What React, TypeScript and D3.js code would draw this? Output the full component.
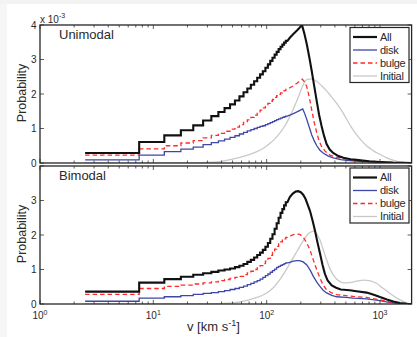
import React from 'react';
import * as d3 from 'd3';

const W = 417;
const H = 337;

// velocity bin centres (km/s), bins are 5 km/s wide
const BIN_V = [5, 10, 15, 20, 25, 30, 35, 40, 45, 50, 55, 60, 65, 70, 75, 80, 85, 90, 95, 100, 105, 110, 115, 120, 125, 130, 135, 140, 145, 150];
const BIN_HALF = 2.5;

// ---------- Unimodal (values in units of 1e-3) ----------
const UNI_ALL_BINS = [0.29, 0.61, 0.8, 0.95, 1.09, 1.23, 1.36, 1.48, 1.59, 1.7, 1.81, 1.93, 2.05, 2.16, 2.27, 2.37, 2.47, 2.57, 2.66, 2.76, 2.86, 2.96, 3.05, 3.14, 3.22, 3.3, 3.37, 3.43, 3.49, 3.54];
const UNI_ALL_TAIL: [number, number][] = [[160, 3.63], [172, 3.74], [185, 3.84], [195, 3.92], [205, 4.0], [215, 3.75], [226, 3.44], [238, 3.06], [250, 2.66], [263, 2.22], [277, 1.78], [290, 1.4], [305, 1.07], [320, 0.8], [338, 0.55], [360, 0.39], [386, 0.29], [430, 0.2], [475, 0.15], [550, 0.11], [620, 0.09], [800, 0.05], [1000, 0.03], [1300, 0.01], [1900, 0]];

const UNI_DISK_BINS = [0.09, 0.23, 0.33, 0.4, 0.46, 0.53, 0.59, 0.64, 0.69, 0.74, 0.79, 0.84, 0.89, 0.93, 0.97, 1.0, 1.03, 1.06, 1.08, 1.11, 1.14, 1.17, 1.2, 1.23, 1.26, 1.28, 1.3, 1.32, 1.34, 1.36];
const UNI_DISK_TAIL: [number, number][] = [[160, 1.39], [172, 1.43], [185, 1.48], [195, 1.52], [208, 1.57], [215, 1.46], [226, 1.26], [238, 1.03], [250, 0.81], [263, 0.64], [277, 0.5], [295, 0.37], [317, 0.28], [350, 0.2], [386, 0.15], [450, 0.1], [510, 0.08], [650, 0.05], [800, 0.03], [1000, 0.02], [1300, 0.005], [1900, 0]];

const UNI_BULGE_BINS = [0.23, 0.41, 0.5, 0.58, 0.65, 0.73, 0.8, 0.86, 0.92, 0.98, 1.04, 1.11, 1.18, 1.25, 1.32, 1.39, 1.46, 1.53, 1.6, 1.67, 1.73, 1.79, 1.84, 1.9, 1.95, 1.99, 2.03, 2.07, 2.1, 2.13];
const UNI_BULGE_TAIL: [number, number][] = [[160, 2.18], [172, 2.24], [185, 2.31], [195, 2.37], [206, 2.43], [215, 2.36], [226, 2.21], [238, 1.9], [250, 1.53], [263, 1.17], [277, 0.87], [290, 0.64], [305, 0.48], [330, 0.33], [362, 0.23], [420, 0.16], [475, 0.13], [600, 0.08], [800, 0.05], [1000, 0.03], [1300, 0.01], [1900, 0]];

const UNI_INITIAL: [number, number][] = [[2.5, 0], [20, 0], [30, 0.02], [40, 0.05], [58, 0.16], [70, 0.24], [81, 0.32], [95, 0.44], [107, 0.57], [118, 0.7], [130, 0.86], [143, 1.05], [155, 1.25], [167, 1.47], [178, 1.68], [187, 1.85], [196, 2.02], [210, 2.27], [220, 2.38], [232, 2.43], [250, 2.43], [277, 2.36], [305, 2.24], [338, 2.09], [375, 1.91], [415, 1.73], [460, 1.51], [510, 1.26], [560, 1.03], [620, 0.82], [690, 0.64], [765, 0.49], [870, 0.36], [1000, 0.25], [1150, 0.15], [1300, 0.08], [1500, 0.03], [1700, 0.01], [1900, 0]];

// ---------- Bimodal ----------
const BI_ALL_BINS = [0.36, 0.62, 0.72, 0.79, 0.85, 0.89, 0.93, 0.97, 1.0, 1.03, 1.07, 1.11, 1.16, 1.22, 1.28, 1.35, 1.42, 1.49, 1.57, 1.66, 1.77, 1.89, 2.02, 2.18, 2.34, 2.5, 2.64, 2.75, 2.86, 2.95];
const BI_ALL_TAIL: [number, number][] = [[160, 3.1], [170, 3.2], [180, 3.26], [190, 3.27], [200, 3.24], [210, 3.17], [220, 3.05], [230, 2.88], [241, 2.7], [255, 2.4], [267, 2.12], [280, 1.8], [295, 1.48], [310, 1.15], [326, 0.88], [345, 0.68], [375, 0.54], [410, 0.47], [450, 0.42], [540, 0.4], [620, 0.37], [763, 0.33], [880, 0.27], [1000, 0.2], [1150, 0.13], [1310, 0.07], [1500, 0.03], [1720, 0.005], [1900, 0]];

const BI_DISK_BINS = [0.08, 0.17, 0.21, 0.24, 0.28, 0.31, 0.33, 0.36, 0.39, 0.42, 0.45, 0.48, 0.52, 0.56, 0.6, 0.64, 0.68, 0.72, 0.77, 0.82, 0.87, 0.92, 0.97, 1.01, 1.06, 1.09, 1.12, 1.14, 1.17, 1.19];
const BI_DISK_TAIL: [number, number][] = [[160, 1.21], [172, 1.24], [185, 1.26], [195, 1.26], [210, 1.22], [226, 1.13], [242, 0.98], [258, 0.8], [276, 0.64], [295, 0.51], [315, 0.4], [338, 0.32], [375, 0.25], [415, 0.21], [500, 0.19], [580, 0.17], [763, 0.15], [1000, 0.1], [1200, 0.05], [1500, 0.02], [1900, 0]];

const BI_BULGE_BINS = [0.28, 0.45, 0.51, 0.55, 0.58, 0.61, 0.64, 0.68, 0.71, 0.74, 0.77, 0.8, 0.85, 0.9, 0.95, 1.0, 1.05, 1.11, 1.17, 1.24, 1.32, 1.41, 1.5, 1.59, 1.67, 1.74, 1.8, 1.85, 1.89, 1.93];
const BI_BULGE_TAIL: [number, number][] = [[160, 1.97], [172, 2.01], [185, 2.03], [196, 2.02], [210, 1.94], [226, 1.77], [242, 1.55], [258, 1.28], [276, 1.0], [295, 0.75], [315, 0.55], [338, 0.41], [375, 0.32], [415, 0.27], [480, 0.25], [580, 0.22], [763, 0.19], [1000, 0.12], [1200, 0.06], [1500, 0.02], [1900, 0]];

const BI_INITIAL: [number, number][] = [[2.5, 0], [30, 0], [50, 0.03], [71, 0.13], [100, 0.32], [115, 0.48], [130, 0.7], [145, 0.93], [161, 1.19], [178, 1.43], [196, 1.67], [215, 1.88], [232, 2.03], [250, 2.1], [262, 2.11], [280, 2.0], [295, 1.86], [315, 1.58], [338, 1.28], [360, 1.04], [386, 0.85], [415, 0.72], [445, 0.65], [475, 0.61], [540, 0.62], [620, 0.66], [710, 0.69], [800, 0.68], [930, 0.6], [1050, 0.47], [1220, 0.31], [1500, 0.12], [1700, 0.04], [1900, 0]];

const Y_TICKS = [0, 1, 2, 3, 4];
const Y_LABELS_TOP = [0, 1, 2, 3, 4];
const Y_LABELS_BOTTOM = [0, 1, 2, 3];
const X_MAJOR = [1, 10, 100, 1000];
const X_MAJOR_EXP = ['0', '1', '2', '3'];
const LEGEND_LABELS = ['All', 'disk', 'bulge', 'Initial'];

const X_DOMAIN: [number, number] = [1, 1900];
const Y_DOMAIN: [number, number] = [0, 4];

const COLORS = { all: '#111111', disk: '#3f47a6', bulge: '#ff2a2a', initial: '#c9c9c9' };
const FONT = "'Liberation Sans', Arial, sans-serif";
const TXT = '#2a2a2a';

const PL = 40;
const PR = 411.6;

const x = d3.scaleLog().domain(X_DOMAIN).range([PL, PR]);

function stairPoints(bins: number[], tail: [number, number][]): [number, number][] {
  const pts: [number, number][] = [];
  bins.forEach((b, i) => {
    pts.push([BIN_V[i] - BIN_HALF, b]);
    pts.push([BIN_V[i] + BIN_HALF, b]);
  });
  return pts.concat(tail);
}

const minorTicks: number[] = [];
[1, 10, 100, 1000].forEach((d) => {
  for (let k = 2; k <= 9; k++) {
    const v = d * k;
    if (v < X_DOMAIN[1]) minorTicks.push(v);
  }
});

type PanelProps = {
  top: number;
  bottom: number;
  id: string;
  title: string;
  all: [number, number][];
  disk: [number, number][];
  bulge: [number, number][];
  initial: [number, number][];
  showXLabels: boolean;
  yLabels: number[];
  legendTop: number;
};

function Panel(p: PanelProps) {
  const y = d3.scaleLinear().domain(Y_DOMAIN).range([p.bottom, p.top]);
  const line = d3
    .line<[number, number]>()
    .x((d) => x(d[0]))
    .y((d) => y(d[1]));
  const smooth = d3
    .line<[number, number]>()
    .x((d) => x(d[0]))
    .y((d) => y(d[1]))
    .curve(d3.curveMonotoneX);
  const clipId = 'clip-' + p.id;
  const legX = 350;
  const legW = 59;
  const rowH = 13;
  const legRows = LEGEND_LABELS.map((_, i) => p.legendTop + 9.5 + i * rowH);
  const legendStyles = [
    { c: COLORS.all, w: 2.2, dash: undefined as string | undefined },
    { c: COLORS.disk, w: 1.3, dash: undefined },
    { c: COLORS.bulge, w: 1.3, dash: '4.5,3' },
    { c: COLORS.initial, w: 1.3, dash: undefined },
  ];
  return (
    <g>
      <defs>
        <clipPath id={clipId}>
          <rect x={PL} y={p.top} width={PR - PL} height={p.bottom - p.top} />
        </clipPath>
      </defs>
      <rect x={PL} y={p.top} width={PR - PL} height={p.bottom - p.top} fill="#fff" />
      <g clipPath={`url(#${clipId})`} fill="none">
        <path d={smooth(p.initial) || ''} stroke={COLORS.initial} strokeWidth={1.3} />
        <path d={line(p.disk) || ''} stroke={COLORS.disk} strokeWidth={1.3} />
        <path d={line(p.bulge) || ''} stroke={COLORS.bulge} strokeWidth={1.3} strokeDasharray="4.5,3" />
        <path d={line(p.all) || ''} stroke={COLORS.all} strokeWidth={2.1} strokeLinejoin="miter" />
      </g>
      <g stroke="#333" strokeWidth={0.8}>
        {X_MAJOR.map((v) => (
          <g key={'M' + v}>
            <line x1={x(v)} x2={x(v)} y1={p.bottom} y2={p.bottom - 4} />
            <line x1={x(v)} x2={x(v)} y1={p.top} y2={p.top + 4} />
          </g>
        ))}
        {minorTicks.map((v) => (
          <g key={'m' + v}>
            <line x1={x(v)} x2={x(v)} y1={p.bottom} y2={p.bottom - 2.5} />
            <line x1={x(v)} x2={x(v)} y1={p.top} y2={p.top + 2.5} />
          </g>
        ))}
        {Y_TICKS.map((t) => (
          <g key={'y' + t}>
            <line x1={PL} x2={PL + 4} y1={y(t)} y2={y(t)} />
            <line x1={PR} x2={PR - 4} y1={y(t)} y2={y(t)} />
          </g>
        ))}
      </g>
      <rect x={PL} y={p.top} width={PR - PL} height={p.bottom - p.top} fill="none" stroke="#262626" strokeWidth={1.3} />
      {p.yLabels.map((t) => (
        <text key={'yl' + t} x={PL - 3.5} y={y(t)} dy="0.35em" textAnchor="end" fontSize={10} fill={TXT} fontFamily={FONT}>
          {t}
        </text>
      ))}
      {p.showXLabels &&
        X_MAJOR.map((v, i) => (
          <text key={'xl' + v} x={x(v)} y={p.bottom + 15} textAnchor="middle" fontSize={10} fill={TXT} fontFamily={FONT}>
            10
            <tspan dy={-4.5} fontSize={7}>
              {X_MAJOR_EXP[i]}
            </tspan>
          </text>
        ))}
      <text x={59} y={p.top + 13.5} fontSize={13} fill={TXT} fontFamily={FONT}>
        {p.title}
      </text>
      <text
        transform={`translate(26,${(p.top + p.bottom) / 2 - 1}) rotate(-90)`}
        textAnchor="middle"
        fontSize={12.5}
        fill={TXT}
        fontFamily={FONT}
      >
        Probability
      </text>
      <rect x={legX} y={p.legendTop} width={legW} height={55} fill="#fff" stroke="#262626" strokeWidth={1.2} />
      {LEGEND_LABELS.map((lab, i) => (
        <g key={lab}>
          <line
            x1={legX + 3}
            x2={legX + 27}
            y1={legRows[i]}
            y2={legRows[i]}
            stroke={legendStyles[i].c}
            strokeWidth={legendStyles[i].w}
            strokeDasharray={legendStyles[i].dash}
          />
          <text x={legX + 30} y={legRows[i]} dy="0.35em" fontSize={11} fill={TXT} fontFamily={FONT} letterSpacing={-0.3}>
            {lab}
          </text>
        </g>
      ))}
    </g>
  );
}

export default function App() {
  const uniAll = stairPoints(UNI_ALL_BINS, UNI_ALL_TAIL);
  const uniDisk = stairPoints(UNI_DISK_BINS, UNI_DISK_TAIL);
  const uniBulge = stairPoints(UNI_BULGE_BINS, UNI_BULGE_TAIL);
  const biAll = stairPoints(BI_ALL_BINS, BI_ALL_TAIL);
  const biDisk = stairPoints(BI_DISK_BINS, BI_DISK_TAIL);
  const biBulge = stairPoints(BI_BULGE_BINS, BI_BULGE_TAIL);
  return (
    <svg width={W} height={H} style={{ position: 'absolute', left: 0, top: 0, background: '#fff' }}>
      <rect x={0} y={0} width={W} height={H} fill="#fff" />
      <rect x={0} y={0} width={W} height={4} fill="#f3f3f3" />
      <rect x={0} y={4} width={7} height={H - 4} fill="#f6f6f6" />
      <Panel
        id="uni"
        top={25}
        bottom={163}
        title="Unimodal"
        all={uniAll}
        disk={uniDisk}
        bulge={uniBulge}
        initial={UNI_INITIAL}
        showXLabels={false}
        yLabels={Y_LABELS_TOP}
        legendTop={27.5}
      />
      <Panel
        id="bi"
        top={166}
        bottom={304}
        title="Bimodal"
        all={biAll}
        disk={biDisk}
        bulge={biBulge}
        initial={BI_INITIAL}
        showXLabels={true}
        yLabels={Y_LABELS_BOTTOM}
        legendTop={168}
      />
      <text x={40} y={22.5} fontSize={10} fill={TXT} fontFamily={FONT}>
        x 10
        <tspan dy={-4.5} fontSize={7}>
          -3
        </tspan>
      </text>
      <text x={187} y={331} fontSize={13} fill={TXT} fontFamily={FONT}>
        v [km s
        <tspan dy={-5} fontSize={9}>
          -1
        </tspan>
        <tspan dy={5}>]</tspan>
      </text>
    </svg>
  );
}
